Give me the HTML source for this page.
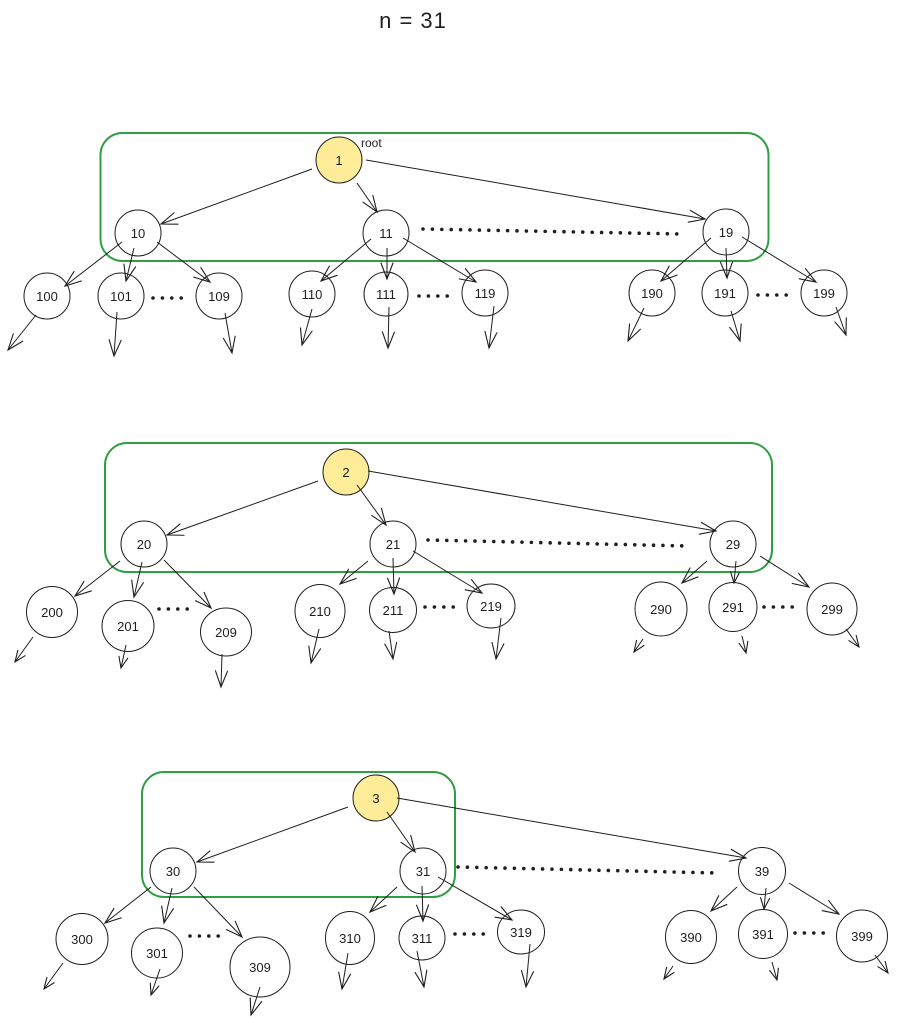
<!DOCTYPE html>
<html><head><meta charset="utf-8"><style>
html,body{margin:0;padding:0;background:#fff;}
svg{display:block;}
text{font-family:"Liberation Sans",sans-serif;fill:#1e1e1e;}
</style></head><body>
<svg width="897" height="1023" viewBox="0 0 897 1023" xmlns="http://www.w3.org/2000/svg">
<defs>
<marker id="a" markerUnits="userSpaceOnUse" markerWidth="40" markerHeight="40" refX="0" refY="0" viewBox="-20 -20 40 40" orient="auto" overflow="visible">
<path d="M-16,-6 L0,0 L-16,6" fill="none" stroke="#1e1e1e" stroke-width="1.1" stroke-linecap="round"/>
</marker>
<marker id="s" markerUnits="userSpaceOnUse" markerWidth="40" markerHeight="40" refX="0" refY="0" viewBox="-20 -20 40 40" orient="auto" overflow="visible">
<path d="M-11,-4.5 L0,0 L-11,4.5" fill="none" stroke="#1e1e1e" stroke-width="1.1" stroke-linecap="round"/>
</marker>
</defs>

<text x="413" y="28" font-size="22" text-anchor="middle" letter-spacing="1">n = 31</text>

<!-- ===== TREE 1 ===== -->
<rect x="100.5" y="133" width="668" height="128" rx="22" fill="none" stroke="#2f9e44" stroke-width="2"/>
<g fill="none" stroke="#1e1e1e" stroke-width="1">
<circle cx="339" cy="160" r="23" fill="#ffec99"/>
<circle cx="138" cy="233" r="23"/>
<circle cx="386" cy="233" r="23"/>
<circle cx="726" cy="232" r="23"/>
<circle cx="47" cy="296" r="23"/>
<circle cx="121" cy="296" r="23"/>
<circle cx="219" cy="296" r="23"/>
<circle cx="312" cy="294" r="23"/>
<circle cx="386" cy="294" r="22"/>
<circle cx="485" cy="293" r="23"/>
<circle cx="652" cy="293" r="23"/>
<circle cx="725" cy="293" r="23"/>
<circle cx="824" cy="293" r="23"/>
</g>
<g stroke="#1e1e1e" stroke-width="1" fill="none">
<line x1="312" y1="169" x2="161" y2="224" marker-end="url(#a)"/>
<line x1="357" y1="183" x2="377" y2="212" marker-end="url(#a)"/>
<line x1="366" y1="160" x2="705" y2="219" marker-end="url(#a)"/>
<line x1="122" y1="242" x2="65" y2="286" marker-end="url(#a)"/>
<line x1="134" y1="248" x2="126" y2="281" marker-end="url(#a)"/>
<line x1="157" y1="242" x2="210" y2="282" marker-end="url(#a)"/>
<line x1="371" y1="239" x2="321" y2="281" marker-end="url(#a)"/>
<line x1="387" y1="248" x2="387" y2="279" marker-end="url(#a)"/>
<line x1="403" y1="238" x2="476" y2="282" marker-end="url(#a)"/>
<line x1="711" y1="238" x2="661" y2="281" marker-end="url(#a)"/>
<line x1="726" y1="248" x2="727" y2="278" marker-end="url(#a)"/>
<line x1="742" y1="237" x2="816" y2="282" marker-end="url(#a)"/>
<line x1="36" y1="315" x2="8" y2="350" marker-end="url(#a)"/>
<line x1="117" y1="312" x2="114" y2="356" marker-end="url(#a)"/>
<line x1="225" y1="313" x2="232" y2="353" marker-end="url(#a)"/>
<line x1="312" y1="309" x2="302" y2="345" marker-end="url(#a)"/>
<line x1="389" y1="307" x2="388" y2="348" marker-end="url(#a)"/>
<line x1="494" y1="306" x2="489" y2="348" marker-end="url(#a)"/>
<line x1="644" y1="308" x2="628" y2="341" marker-end="url(#a)"/>
<line x1="731" y1="311" x2="740" y2="341" marker-end="url(#a)"/>
<line x1="836" y1="307" x2="846" y2="335" marker-end="url(#a)"/>
</g>
<g stroke="#1e1e1e" stroke-width="3.6" stroke-linecap="round" stroke-dasharray="0 9.4" fill="none">
<line x1="423" y1="229" x2="681" y2="234"/>
<line x1="153" y1="298" x2="185" y2="298"/>
<line x1="419" y1="296" x2="451" y2="296"/>
<line x1="758" y1="295" x2="790" y2="295"/>
</g>
<g font-size="13" text-anchor="middle">
<text x="339" y="165">1</text>
<text x="138" y="238">10</text>
<text x="386" y="238">11</text>
<text x="726" y="237">19</text>
<text x="47" y="301">100</text>
<text x="121" y="301">101</text>
<text x="219" y="301">109</text>
<text x="312" y="299">110</text>
<text x="386" y="299">111</text>
<text x="485" y="298">119</text>
<text x="652" y="298">190</text>
<text x="725" y="298">191</text>
<text x="824" y="298">199</text>
</g>
<text x="361" y="147" font-size="12">root</text>

<!-- ===== TREE 2 ===== -->
<rect x="105" y="443" width="667" height="129" rx="22" fill="none" stroke="#2f9e44" stroke-width="2"/>
<g fill="none" stroke="#1e1e1e" stroke-width="1">
<circle cx="346" cy="472" r="23" fill="#ffec99"/>
<circle cx="144" cy="544" r="23"/>
<circle cx="393" cy="544" r="23"/>
<circle cx="733" cy="544" r="23"/>
<ellipse cx="52" cy="612" rx="25.5" ry="25.5"/>
<ellipse cx="128" cy="626" rx="26" ry="25.5"/>
<ellipse cx="226" cy="632" rx="25.5" ry="24"/>
<ellipse cx="320" cy="611" rx="25" ry="26.5"/>
<ellipse cx="393" cy="610" rx="23.5" ry="22.5"/>
<ellipse cx="491" cy="606" rx="24" ry="22"/>
<ellipse cx="661" cy="609" rx="26" ry="27"/>
<ellipse cx="733" cy="607" rx="24" ry="24.5"/>
<ellipse cx="832" cy="609" rx="25" ry="26"/>
</g>
<g stroke="#1e1e1e" stroke-width="1" fill="none">
<line x1="318" y1="481" x2="167" y2="535" marker-end="url(#a)"/>
<line x1="357" y1="485" x2="386" y2="525" marker-end="url(#a)"/>
<line x1="368" y1="471" x2="716" y2="531" marker-end="url(#a)"/>
<line x1="120" y1="561" x2="75" y2="596" marker-end="url(#a)"/>
<line x1="142" y1="562" x2="134" y2="597" marker-end="url(#a)"/>
<line x1="164" y1="560" x2="211" y2="608" marker-end="url(#a)"/>
<line x1="368" y1="561" x2="340" y2="584" marker-end="url(#a)"/>
<line x1="393" y1="558" x2="394" y2="594" marker-end="url(#a)"/>
<line x1="413" y1="551" x2="482" y2="593" marker-end="url(#a)"/>
<line x1="707" y1="561" x2="682" y2="583" marker-end="url(#a)"/>
<line x1="736" y1="561" x2="734" y2="583" marker-end="url(#s)"/>
<line x1="760" y1="556" x2="809" y2="587" marker-end="url(#a)"/>
<line x1="33" y1="637" x2="15" y2="662" marker-end="url(#s)"/>
<line x1="126" y1="645" x2="121" y2="668" marker-end="url(#s)"/>
<line x1="222" y1="654" x2="221" y2="687" marker-end="url(#a)"/>
<line x1="319" y1="629" x2="311" y2="663" marker-end="url(#a)"/>
<line x1="389" y1="631" x2="393" y2="659" marker-end="url(#a)"/>
<line x1="501" y1="618" x2="496" y2="659" marker-end="url(#a)"/>
<line x1="643" y1="639" x2="634" y2="652" marker-end="url(#s)"/>
<line x1="742" y1="636" x2="746" y2="653" marker-end="url(#s)"/>
<line x1="846" y1="629" x2="859" y2="647" marker-end="url(#s)"/>
</g>
<g stroke="#1e1e1e" stroke-width="3.6" stroke-linecap="round" stroke-dasharray="0 9.4" fill="none">
<line x1="428" y1="540" x2="688" y2="546"/>
<line x1="159" y1="609" x2="191" y2="609"/>
<line x1="425" y1="607" x2="457" y2="607"/>
<line x1="764" y1="607" x2="796" y2="607"/>
</g>
<g font-size="13" text-anchor="middle">
<text x="346" y="477">2</text>
<text x="144" y="549">20</text>
<text x="393" y="549">21</text>
<text x="733" y="549">29</text>
<text x="52" y="617">200</text>
<text x="128" y="631">201</text>
<text x="226" y="637">209</text>
<text x="320" y="616">210</text>
<text x="393" y="615">211</text>
<text x="491" y="611">219</text>
<text x="661" y="614">290</text>
<text x="733" y="612">291</text>
<text x="832" y="614">299</text>
</g>

<!-- ===== TREE 3 ===== -->
<rect x="142" y="772" width="313" height="125" rx="22" fill="none" stroke="#2f9e44" stroke-width="2"/>
<g fill="none" stroke="#1e1e1e" stroke-width="1">
<circle cx="376" cy="798" r="23" fill="#ffec99"/>
<circle cx="173" cy="871" r="23"/>
<circle cx="423" cy="871" r="23"/>
<circle cx="762" cy="871" r="23.5"/>
<ellipse cx="82" cy="939" rx="26" ry="25.5"/>
<ellipse cx="157" cy="953" rx="25.5" ry="25"/>
<ellipse cx="260" cy="967" rx="30" ry="30"/>
<ellipse cx="350" cy="938" rx="24.5" ry="26.5"/>
<ellipse cx="422" cy="938" rx="23" ry="22"/>
<ellipse cx="521" cy="932" rx="23.5" ry="22"/>
<ellipse cx="691" cy="937" rx="25.5" ry="26.5"/>
<ellipse cx="763" cy="934" rx="24.5" ry="24.5"/>
<ellipse cx="862" cy="936" rx="25.5" ry="26"/>
</g>
<g stroke="#1e1e1e" stroke-width="1" fill="none">
<line x1="348" y1="807" x2="197" y2="862" marker-end="url(#a)"/>
<line x1="387" y1="812" x2="415" y2="852" marker-end="url(#a)"/>
<line x1="397" y1="798" x2="746" y2="858" marker-end="url(#a)"/>
<line x1="151" y1="887" x2="105" y2="923" marker-end="url(#a)"/>
<line x1="172" y1="888" x2="164" y2="923" marker-end="url(#a)"/>
<line x1="194" y1="887" x2="242" y2="937" marker-end="url(#a)"/>
<line x1="397" y1="887" x2="370" y2="912" marker-end="url(#a)"/>
<line x1="422" y1="886" x2="423" y2="921" marker-end="url(#a)"/>
<line x1="438" y1="877" x2="512" y2="920" marker-end="url(#a)"/>
<line x1="737" y1="887" x2="711" y2="911" marker-end="url(#a)"/>
<line x1="766" y1="888" x2="764" y2="909" marker-end="url(#s)"/>
<line x1="789" y1="883" x2="839" y2="914" marker-end="url(#a)"/>
<line x1="63" y1="963" x2="44" y2="989" marker-end="url(#s)"/>
<line x1="160" y1="969" x2="151" y2="995" marker-end="url(#s)"/>
<line x1="260" y1="987" x2="251" y2="1015" marker-end="url(#a)"/>
<line x1="348" y1="953" x2="342" y2="989" marker-end="url(#a)"/>
<line x1="417" y1="951" x2="424" y2="987" marker-end="url(#a)"/>
<line x1="530" y1="944" x2="526" y2="987" marker-end="url(#a)"/>
<line x1="673" y1="966" x2="664" y2="979" marker-end="url(#s)"/>
<line x1="772" y1="962" x2="777" y2="980" marker-end="url(#s)"/>
<line x1="875" y1="955" x2="888" y2="973" marker-end="url(#s)"/>
</g>
<g stroke="#1e1e1e" stroke-width="3.6" stroke-linecap="round" stroke-dasharray="0 9.4" fill="none">
<line x1="458" y1="867" x2="718" y2="873"/>
<line x1="190" y1="936" x2="222" y2="936"/>
<line x1="455" y1="934" x2="487" y2="934"/>
<line x1="795" y1="933" x2="827" y2="933"/>
</g>
<g font-size="13" text-anchor="middle">
<text x="376" y="803">3</text>
<text x="173" y="876">30</text>
<text x="423" y="876">31</text>
<text x="762" y="876">39</text>
<text x="82" y="944">300</text>
<text x="157" y="958">301</text>
<text x="260" y="972">309</text>
<text x="350" y="943">310</text>
<text x="422" y="943">311</text>
<text x="521" y="937">319</text>
<text x="691" y="942">390</text>
<text x="763" y="939">391</text>
<text x="862" y="941">399</text>
</g>
</svg>
</body></html>
